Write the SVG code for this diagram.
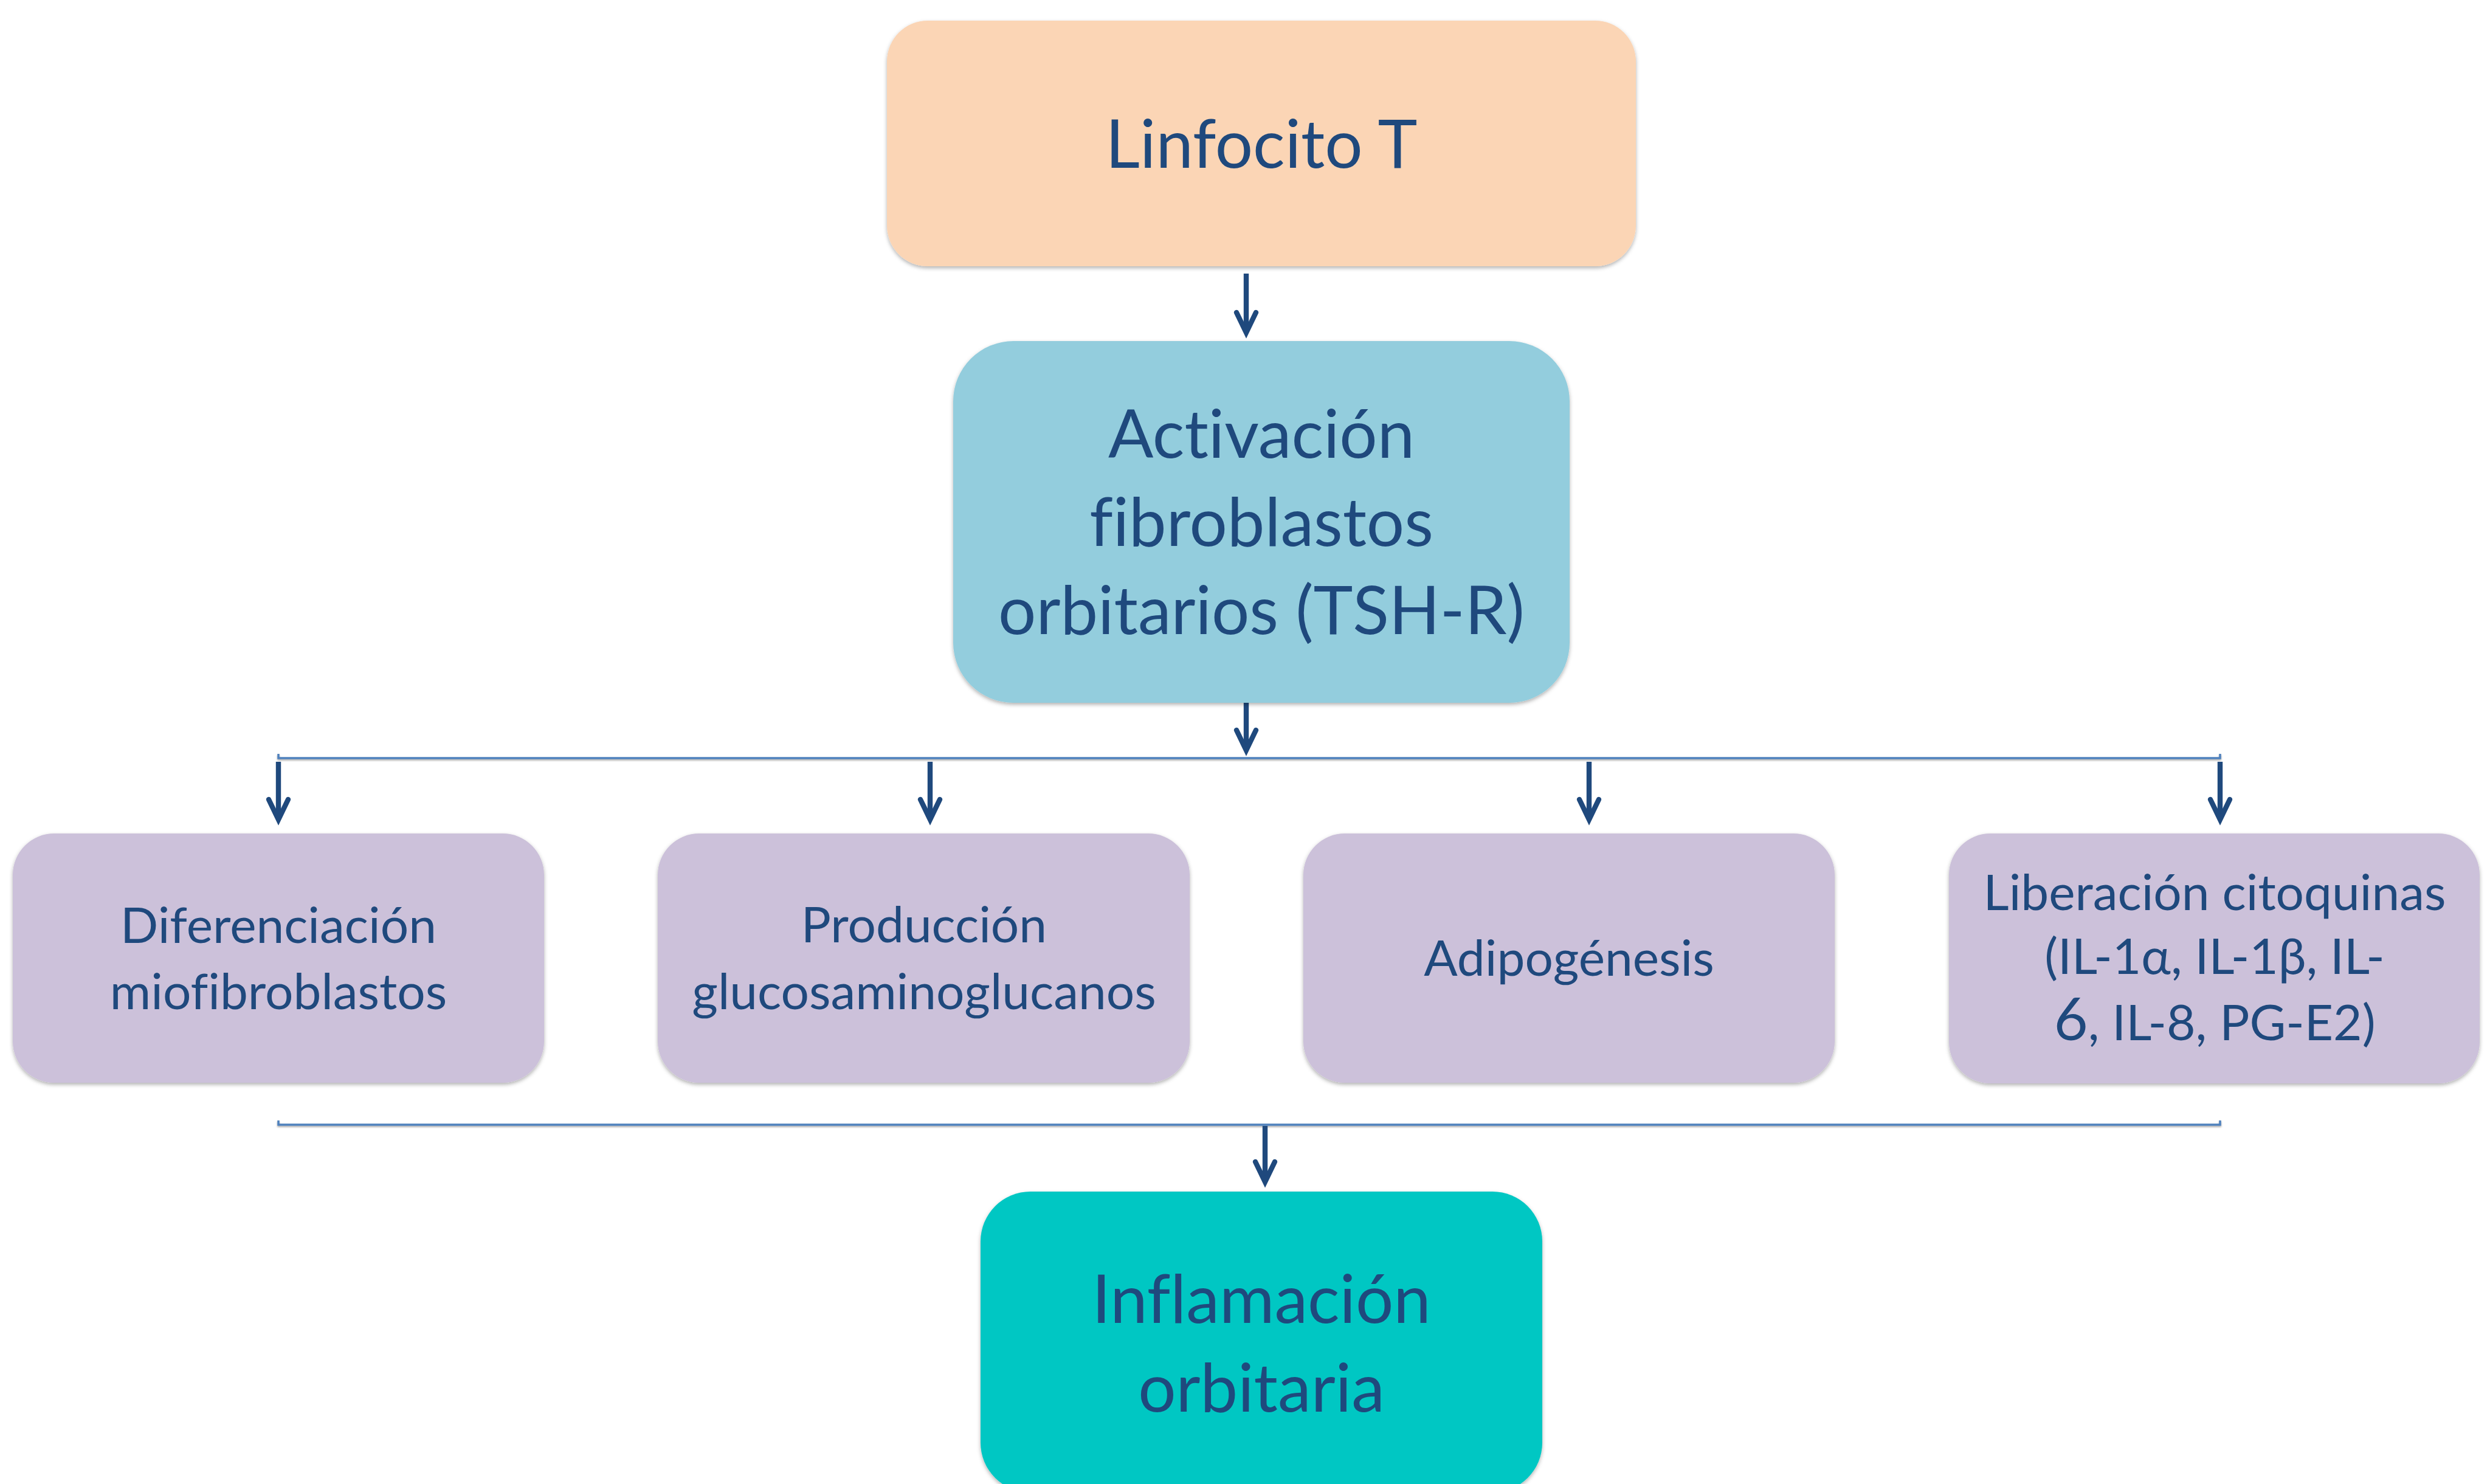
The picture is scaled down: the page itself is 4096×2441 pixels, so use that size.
<svg xmlns="http://www.w3.org/2000/svg" width="4096" height="2441" viewBox="0 0 4096 2441">
<defs>
<filter id="sh" x="-10%" y="-10%" width="120%" height="130%">
<feDropShadow dx="0" dy="3" stdDeviation="3" flood-color="#000" flood-opacity="0.3"/>
</filter>
<filter id="lsh" x="-5%" y="-200%" width="110%" height="500%">
<feDropShadow dx="0" dy="2" stdDeviation="1.5" flood-color="#000" flood-opacity="0.35"/>
</filter>
<marker id="ah" markerUnits="userSpaceOnUse" orient="auto" refX="0" refY="0" markerWidth="60" markerHeight="60" viewBox="-45 -30 60 60" overflow="visible">
<path d="M -33,-16 L 0,0 L -33,16" fill="none" stroke="#1F497D" stroke-width="8.4" stroke-linecap="round" stroke-linejoin="miter" stroke-miterlimit="10"/>
</marker>
</defs>
<style>
.box{filter:url(#sh);}
.t{font-family:Lato,"Open Sans","Liberation Sans",sans-serif;fill:#1F497D;text-anchor:middle;font-variant-ligatures:none;font-feature-settings:"liga" 0,"clig" 0;}
.big{font-size:110px;}
.med{font-size:82px;}
.arr{fill:none;stroke:#1F497D;stroke-width:8.4;marker-end:url(#ah);}
.br{fill:none;stroke:#4F81BD;stroke-width:3.5;filter:url(#lsh);}
</style>
<rect width="4096" height="2441" fill="#FFFFFF"/>
<g id="connectors">
<path class="arr" d="M2050,450 V547"/>
<path class="arr" d="M2050,1156 V1234"/>
<path class="br" d="M458,1240 V1247 H3652 V1240"/>
<path class="arr" d="M458,1253 V1348"/>
<path class="arr" d="M1530,1253 V1348"/>
<path class="arr" d="M2614,1253 V1348"/>
<path class="arr" d="M3652,1253 V1348"/>
<path class="br" d="M458,1843 V1850 H3652 V1843"/>
<path class="arr" d="M2081,1852 V1944"/>
</g>
<g id="linfocito">
<rect class="box" x="1459" y="34" width="1232" height="404" rx="67" fill="#FBD5B5"/>
<text class="t big" x="2075" y="276">Linfocito T</text>
</g>
<g id="activacion">
<rect class="box" x="1568" y="561" width="1014" height="595" rx="99" fill="#93CDDD"/>
<text class="t big" x="2075" y="753">Activación</text>
<text class="t big" x="2075" y="898">fibroblastos</text>
<text class="t big" x="2075" y="1043">orbitarios (TSH-R)</text>
</g>
<g id="diferenciacion">
<rect class="box" x="21" y="1371" width="874" height="410" rx="68" fill="#CCC1DA"/>
<text class="t med" x="458" y="1551">Diferenciación</text>
<text class="t med" x="458" y="1660">miofibroblastos</text>
</g>
<g id="produccion">
<rect class="box" x="1082" y="1371" width="875" height="410" rx="68" fill="#CCC1DA"/>
<text class="t med" x="1520" y="1550">Producción</text>
<text class="t med" x="1520" y="1660">glucosaminoglucanos</text>
</g>
<g id="adipogenesis">
<rect class="box" x="2144" y="1371" width="874" height="410" rx="68" fill="#CCC1DA"/>
<text class="t med" x="2581" y="1605">Adipogénesis</text>
</g>
<g id="liberacion">
<rect class="box" x="3206" y="1371" width="873" height="411" rx="68" fill="#CCC1DA"/>
<text class="t med" x="3643" y="1497">Liberación citoquinas</text>
<text class="t med" x="3643" y="1602">(IL-1α, IL-1β, IL-</text>
<text class="t med" x="3643" y="1711"><tspan font-size="97">6</tspan>, IL-8, PG-E2)</text>
</g>
<g id="inflamacion">
<rect class="box" x="1613" y="1960" width="924" height="495" rx="82" fill="#00C7C3"/>
<text class="t big" x="2075" y="2176">Inflamación</text>
<text class="t big" x="2075" y="2322">orbitaria</text>
</g>
</svg>
